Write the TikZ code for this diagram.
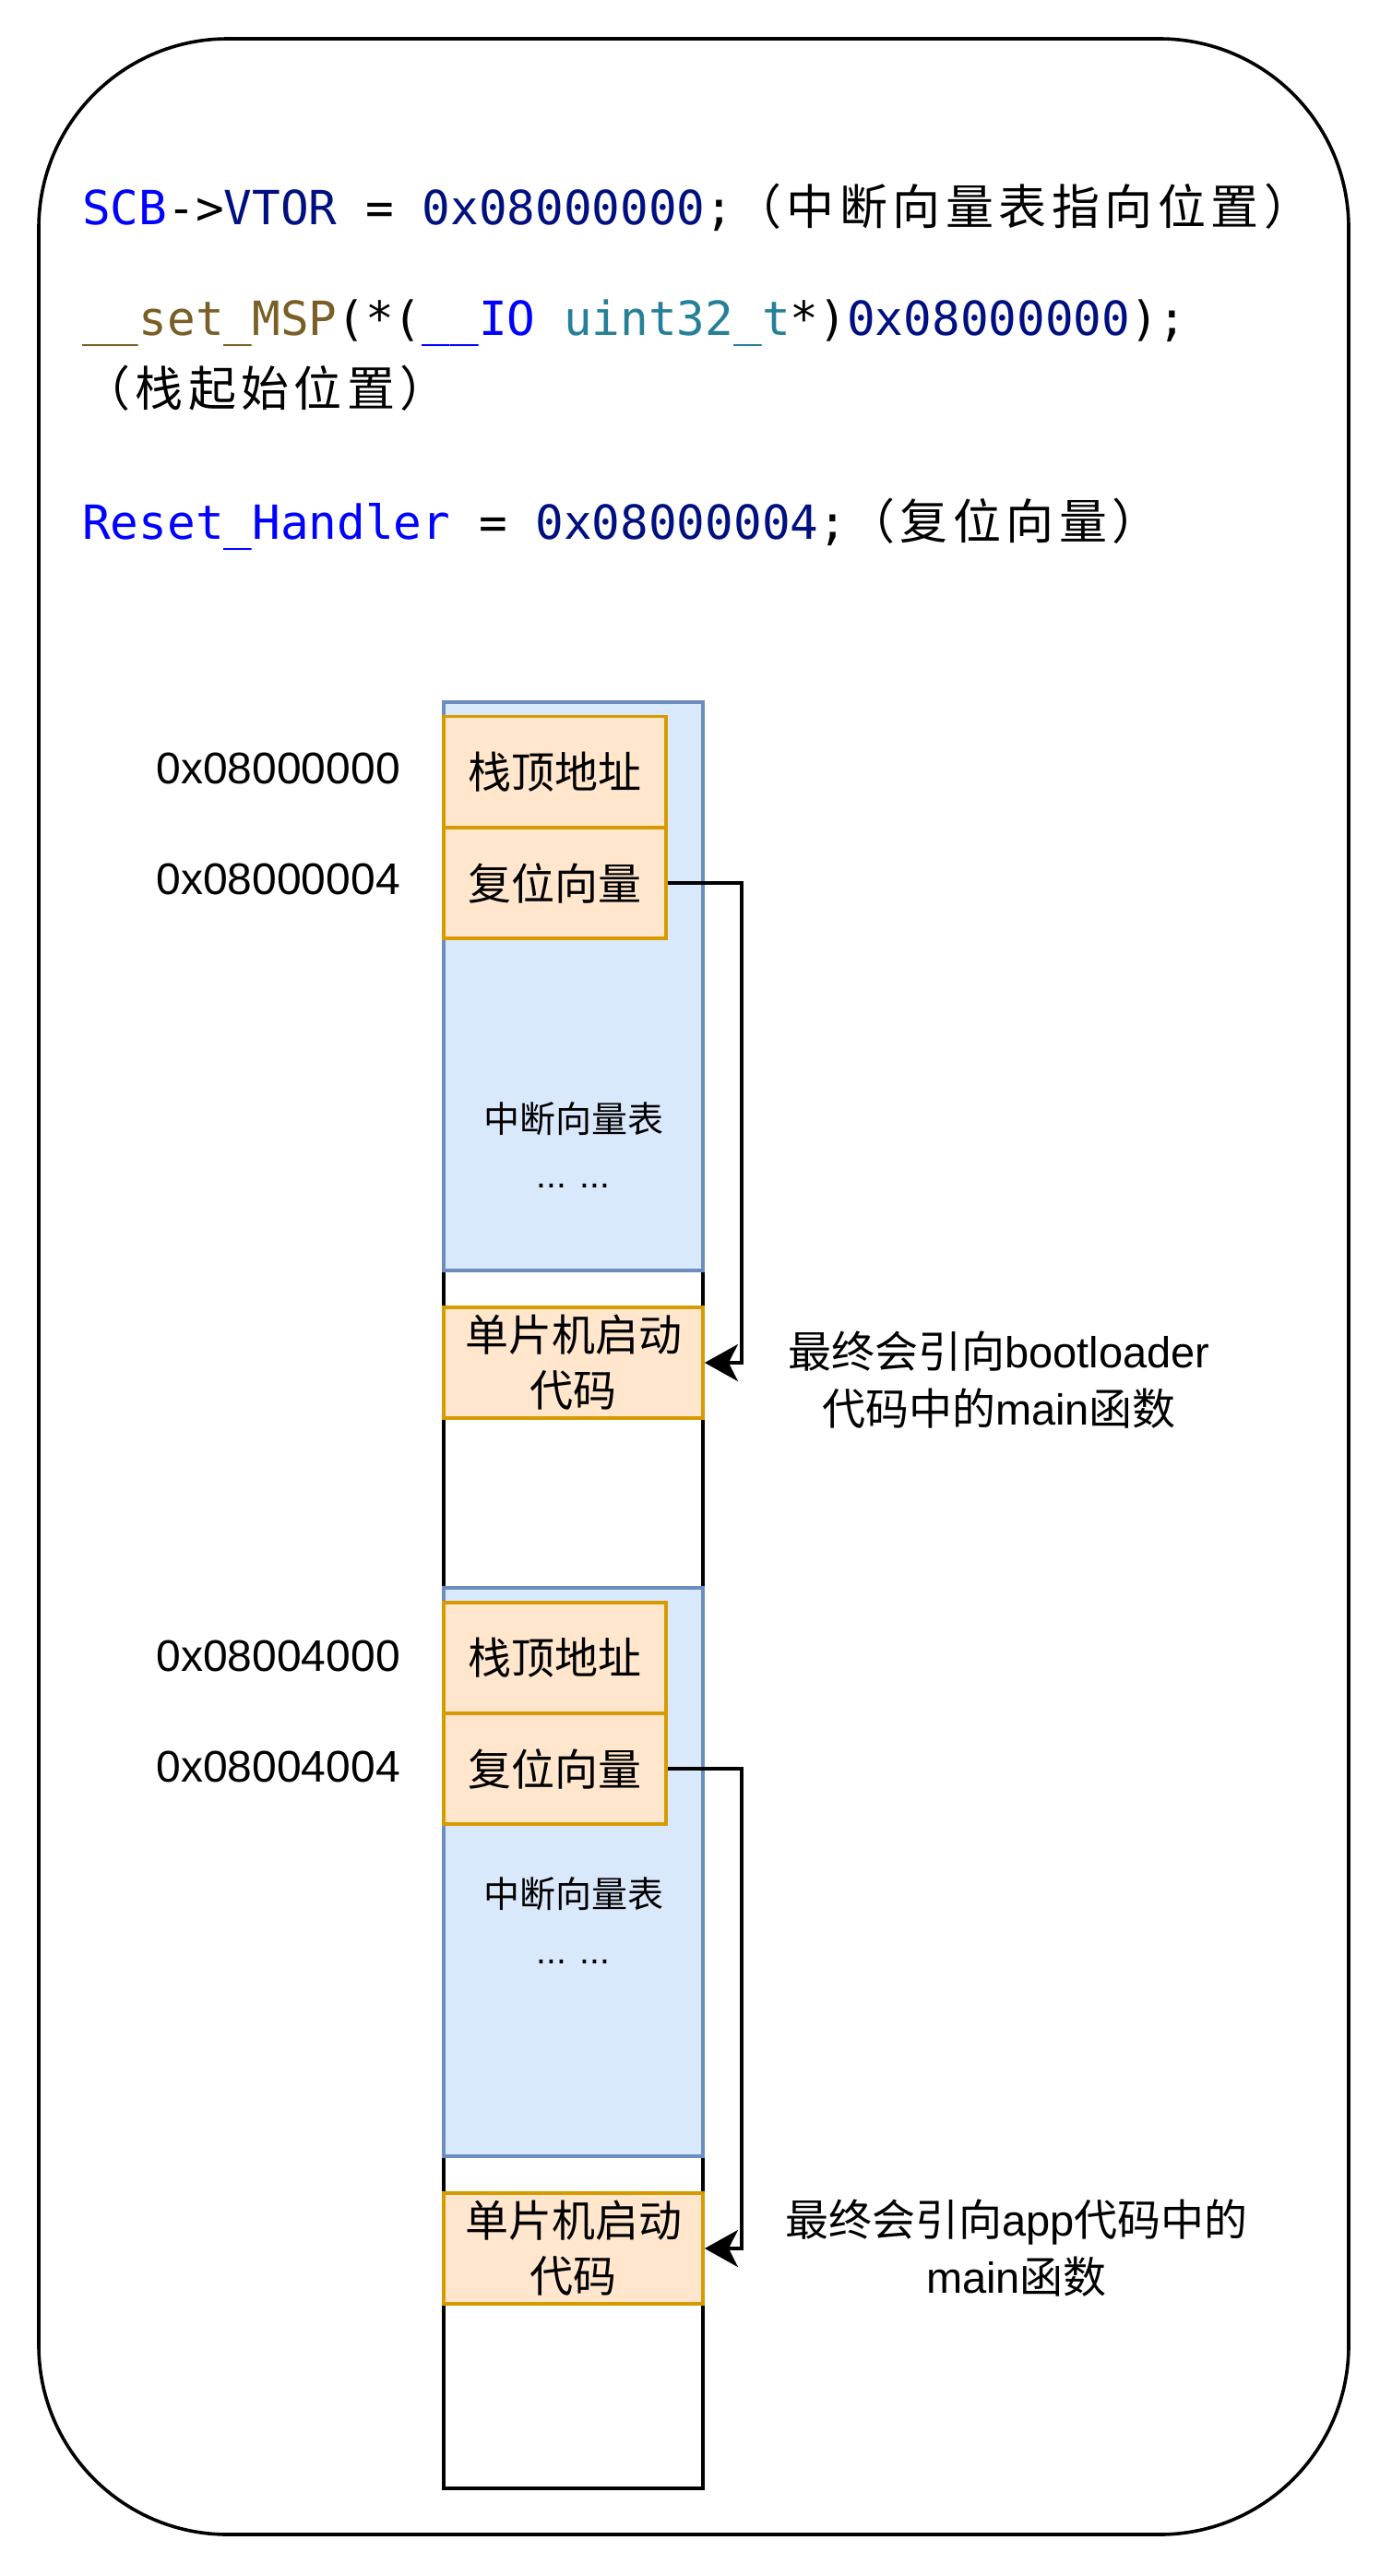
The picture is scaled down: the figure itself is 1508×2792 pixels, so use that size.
\documentclass[tikz,border=0pt]{standalone}
\usepackage{fontspec}
\setmainfont{Liberation Sans}
\newfontfamily\codefont{DejaVu Sans Mono}
\newfontfamily\cjkf{Noto Sans CJK SC}
\newfontfamily\cjkwide{Noto Sans CJK SC}[LetterSpace=10.5]
\usetikzlibrary{arrows.meta}
\definecolor{kwblue}{HTML}{0000FF}
\definecolor{navyc}{HTML}{001080}
\definecolor{fnc}{HTML}{795E26}
\definecolor{typec}{HTML}{267F99}
\definecolor{bluefill}{HTML}{DAE8FC}
\definecolor{bluestroke}{HTML}{6C8EBF}
\definecolor{orfill}{HTML}{FFE6CC}
\definecolor{orstroke}{HTML}{D79B00}
\begin{document}
\begin{tikzpicture}[x=1pt,y=-1pt,
  frame/.style={draw, line width=3.6pt, rounded corners=205pt, minimum width=1420pt, minimum height=2705pt, inner sep=0pt},
  column/.style={draw, fill=white, line width=3.8pt, minimum width=281pt, minimum height=1936pt, inner sep=0pt},
  vtable/.style={draw=bluestroke, fill=bluefill, line width=3.8pt, minimum width=281pt, minimum height=616pt, inner sep=0pt},
  stackbox/.style={draw=orstroke, fill=orfill, line width=3.8pt, minimum width=241pt, minimum height=120pt, inner sep=0pt, font=\cjkf\fontsize{47}{60}\selectfont},
  bootbox/.style={draw=orstroke, fill=orfill, line width=3.8pt, minimum width=281pt, minimum height=120pt, inner sep=0pt, align=center, font=\cjkf\fontsize{47}{60}\selectfont},
  addr/.style={anchor=east, inner sep=0pt, font=\fontsize{48}{56}\selectfont},
  codeline/.style={anchor=base west, inner sep=0pt, font=\codefont\fontsize{51}{60}\selectfont},
  codecjk/.style={font=\cjkwide\fontsize{52}{60}\selectfont},
  vtext/.style={inner sep=0pt, font=\cjkf\fontsize{39}{47}\selectfont},
  dots/.style={anchor=base, inner sep=0pt, font=\fontsize{39}{47}\selectfont},
  note/.style={align=center, inner sep=0pt, font=\fontsize{47}{62}\selectfont},
  arr/.style={draw, line width=3.6pt, -{Stealth[length=36pt,width=40pt,inset=10pt]}}
]
\useasboundingbox (0,0) rectangle (1508,2792);
\fill[white] (0,0) rectangle (1508,2792);

% outer frame
\node[frame] (frame) at (752,1394.5) {};

% code text
\node[codeline] (c1) at (89,243) {\textcolor{kwblue}{SCB}->\textcolor{navyc}{VTOR} = \textcolor{navyc}{0x08000000};{\cjkwide\fontsize{52}{60}\selectfont （中断向量表指向位置）}};
\node[codeline] (c2) at (89,363) {\textcolor{fnc}{\_\_set\_MSP}(*(\textcolor{kwblue}{\_\_IO} \textcolor{typec}{uint32\_t}*)\textcolor{navyc}{0x08000000});};
\node[codeline, codecjk] (c3) at (89,440) {（栈起始位置）};
\node[codeline] (c4) at (89,584) {\textcolor{kwblue}{Reset\_Handler} = \textcolor{navyc}{0x08000004};{\cjkwide\fontsize{52}{60}\selectfont （复位向量）}};

% memory column
\node[column] (col) at (621.5,1729) {};
\node[vtable] (vt1) at (621.5,1069) {};
\node[vtable] (vt2) at (621.5,2029) {};

% block 1
\node[stackbox] (sp1) at (601.5,836.5) {栈顶地址};
\node[stackbox] (rv1) at (601.5,957) {复位向量};
\node[vtext] (vtt1) at (621.5,1213) {中断向量表};
\node[dots] (vtd1) at (621.5,1287) {... ...};
\node[bootbox] (boot1) at (621.5,1477) {单片机启动\\代码};

% block 2
\node[stackbox] (sp2) at (601.5,1797) {栈顶地址};
\node[stackbox] (rv2) at (601.5,1917) {复位向量};
\node[vtext] (vtt2) at (621.5,2053) {中断向量表};
\node[dots] (vtd2) at (621.5,2128) {... ...};
\node[bootbox] (boot2) at (621.5,2437) {单片机启动\\代码};

% address labels
\node[addr] (a1) at (434,833) {0x08000000};
\node[addr] (a2) at (434,953) {0x08000004};
\node[addr] (a3) at (434,1795) {0x08004000};
\node[addr] (a4) at (434,1915) {0x08004004};

% notes
\node[note] (n1) at (1083,1496) {{\cjkf 最终会引向}bootloader\\{\cjkf 代码中的}main{\cjkf 函数}};
\node[note] (n2) at (1102,2437) {{\cjkf 最终会引向}app{\cjkf 代码中的}\\main{\cjkf 函数}};

% arrows
\draw[arr] (rv1.east) -- ++(80,0) |- (boot1.east);
\draw[arr] (rv2.east) -- ++(80,0) |- (boot2.east);
\end{tikzpicture}
\end{document}
